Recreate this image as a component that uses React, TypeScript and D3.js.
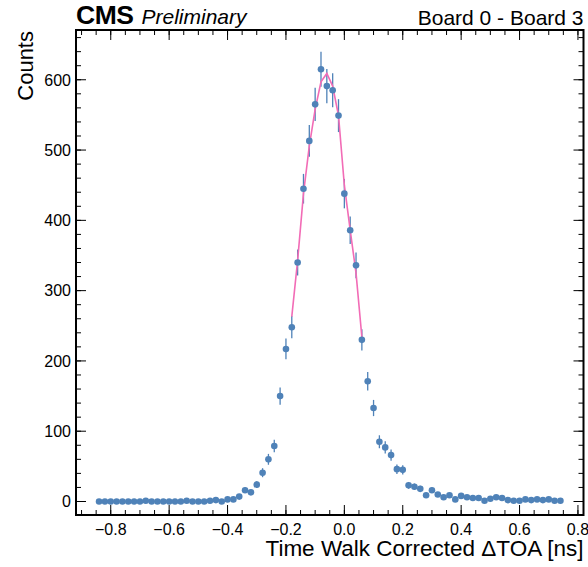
import React from "react";
import * as d3 from "d3";

const binCenters = [
  -0.84, -0.82, -0.8, -0.78, -0.76, -0.74, -0.72, -0.7, -0.68, -0.66,
  -0.64, -0.62, -0.6, -0.58, -0.56, -0.54, -0.52, -0.5, -0.48, -0.46,
  -0.44, -0.42, -0.4, -0.38, -0.36, -0.34, -0.32, -0.3, -0.28, -0.26,
  -0.24, -0.22, -0.2, -0.18, -0.16, -0.14, -0.12, -0.1, -0.08, -0.06,
  -0.04, -0.02, 0.0, 0.02, 0.04, 0.06, 0.08, 0.1, 0.12, 0.14,
  0.16, 0.18, 0.2, 0.22, 0.24, 0.26, 0.28, 0.3, 0.32, 0.34,
  0.36, 0.38, 0.4, 0.42, 0.44, 0.46, 0.48, 0.5, 0.52, 0.54,
  0.56, 0.58, 0.6, 0.62, 0.64, 0.66, 0.68, 0.7, 0.72, 0.74,
];

const counts = [
  0, 0, 0, 0, 0, 0, 0, 0, 1, 0,
  0, 0, 0, 0, 0, 1, 0, 0, 0, 1,
  2, 0, 3, 3, 7, 16, 13, 24, 41, 60,
  79, 150, 217, 248, 340, 445, 513, 565, 615, 591,
  585, 549, 438, 386, 336, 230, 171, 133, 85, 77,
  66, 46, 45, 23, 21, 18, 9, 16, 10, 6,
  9, 3, 8, 6, 5, 5, 1, 4, 6, 5,
  2, 1, 1, 3, 2, 3, 2, 3, 1, 1,
];

const fitX = [-0.18, -0.16, -0.14, -0.12, -0.1, -0.08, -0.06, -0.04, -0.02, 0.0, 0.02, 0.04, 0.06];
const fitY = [263, 343, 438, 506, 558, 597, 609, 591, 549, 450, 386, 325, 234];

const xMajorTicks = [-0.8, -0.6, -0.4, -0.2, 0.0, 0.2, 0.4, 0.6, 0.8];
const yMajorTicks = [0, 100, 200, 300, 400, 500, 600];

const W = 588;
const H = 567;
const margin = { left: 76, right: 4.5, top: 30, bottom: 52 };
const FONT = "'Liberation Sans', Arial, Helvetica, sans-serif";
const BLUE = "#4f82b8";
const PINK = "#f26cb6";

export default function App() {
  const x = d3.scaleLinear().domain([-0.919, 0.819]).range([margin.left, W - margin.right]);
  const y = d3.scaleLinear().domain([-19.2, 670.8]).range([H - margin.bottom, margin.top]);
  const x0 = margin.left, x1 = W - margin.right, y0 = H - margin.bottom, y1 = margin.top;

  const xMinor = d3.range(-0.9, 0.81, 0.05).map((v) => Math.round(v * 100) / 100);
  const yMinor = d3.range(0, 661, 20);
  const fmtX = (v: number) => d3.format(".1f")(v).replace("-", "\u2212");

  const line = d3
    .line<number>()
    .x((_, i) => x(fitX[i]))
    .y((d) => y(d));

  const MAJ = 10, MIN = 5;

  return (
    <svg
      width={W}
      height={H}
      style={{ position: "absolute", left: 0, top: 0, background: "#fff" }}
      fontFamily={FONT}
    >
      <rect x={0} y={0} width={W} height={H} fill="#fff" />
      {counts.map((c, i) =>
        c > 0 ? (
          <line
            key={"e" + i}
            x1={x(binCenters[i])}
            x2={x(binCenters[i])}
            y1={y(c - Math.sqrt(c))}
            y2={y(c + Math.sqrt(c))}
            stroke={BLUE}
            strokeWidth={1.3}
          />
        ) : null
      )}
      <path d={line(fitY) || ""} fill="none" stroke={PINK} strokeWidth={1.6} />
      {counts.map((c, i) => (
        <circle key={"p" + i} cx={x(binCenters[i])} cy={y(c)} r={3.3} fill={BLUE} />
      ))}

      {xMinor.map((v, i) => (
        <g key={"xm" + i}>
          <line x1={x(v)} x2={x(v)} y1={y0} y2={y0 - MIN} stroke="#000" strokeWidth={1} />
          <line x1={x(v)} x2={x(v)} y1={y1} y2={y1 + MIN} stroke="#000" strokeWidth={1} />
        </g>
      ))}
      {xMajorTicks.map((v, i) => (
        <g key={"xM" + i}>
          <line x1={x(v)} x2={x(v)} y1={y0} y2={y0 - MAJ} stroke="#000" strokeWidth={1} />
          <line x1={x(v)} x2={x(v)} y1={y1} y2={y1 + MAJ} stroke="#000" strokeWidth={1} />
          <text x={x(v)} y={534.5} textAnchor="middle" fontSize={16} fill="#000">
            {fmtX(v)}
          </text>
        </g>
      ))}
      {yMinor.map((v, i) => (
        <g key={"ym" + i}>
          <line x1={x0} x2={x0 + MIN} y1={y(v)} y2={y(v)} stroke="#000" strokeWidth={1} />
          <line x1={x1} x2={x1 - MIN} y1={y(v)} y2={y(v)} stroke="#000" strokeWidth={1} />
        </g>
      ))}
      {yMajorTicks.map((v, i) => (
        <g key={"yM" + i}>
          <line x1={x0} x2={x0 + MAJ} y1={y(v)} y2={y(v)} stroke="#000" strokeWidth={1} />
          <line x1={x1} x2={x1 - MAJ} y1={y(v)} y2={y(v)} stroke="#000" strokeWidth={1} />
          <text x={x0 - 5} y={y(v)} dy="0.36em" textAnchor="end" fontSize={16} fill="#000">
            {v}
          </text>
        </g>
      ))}

      <rect x={x0} y={y1} width={x1 - x0} height={y0 - y1} fill="none" stroke="#000" strokeWidth={2} />

      <text x={x1} y={556} textAnchor="end" fontSize={22.5} fill="#000">
        Time Walk Corrected ΔTOA [ns]
      </text>
      <text
        transform={`translate(33, ${y1 + 1}) rotate(-90)`}
        textAnchor="end"
        fontSize={22}
        fill="#000"
      >
        Counts
      </text>
      <text x={x0} y={23.5} fontSize={26.5} fontWeight="bold" fill="#000" letterSpacing={-0.5}>
        CMS
      </text>
      <text x={141.5} y={23.5} fontSize={21} fontStyle="italic" fill="#000">
        Preliminary
      </text>
      <text x={x1} y={25} textAnchor="end" fontSize={21} fill="#000">
        Board 0 - Board 3
      </text>
    </svg>
  );
}
